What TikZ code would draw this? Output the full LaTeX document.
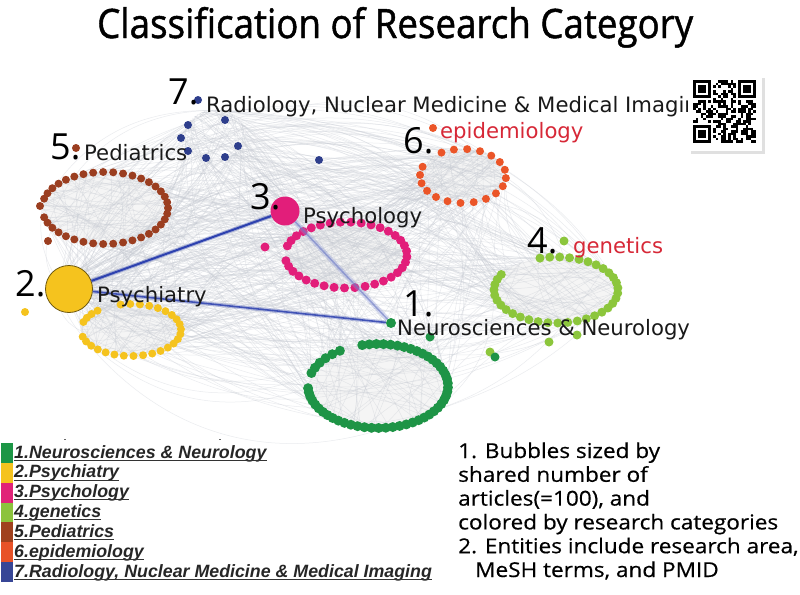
\documentclass[tikz,border=0pt]{standalone}
\usepackage{fontspec}
\newfontfamily\titlef{Open Sans}
\newfontfamily\titleh{Open Sans}[FakeBold=1.2]
\newfontfamily\notef{Open Sans}[FakeBold=0.5]
\newfontfamily\labf{DejaVu Sans}
\newfontfamily\legf{Liberation Sans}
\usetikzlibrary{calc}
\definecolor{cNeu}{RGB}{30,148,70}
\definecolor{cPsi}{RGB}{245,195,30}
\definecolor{cPsy}{RGB}{226,30,122}
\definecolor{cGen}{RGB}{140,198,60}
\definecolor{cPed}{RGB}{155,62,32}
\definecolor{cEpi}{RGB}{235,85,40}
\definecolor{cRad}{RGB}{46,62,140}
\definecolor{cEdge}{RGB}{200,204,212}
\definecolor{cBlue}{RGB}{45,65,175}
\definecolor{cRed}{RGB}{215,40,55}
\definecolor{lNeu}{RGB}{28,150,70}
\definecolor{lPsi}{RGB}{245,195,30}
\definecolor{lPsy}{RGB}{225,35,120}
\definecolor{lGen}{RGB}{140,195,60}
\definecolor{lPed}{RGB}{160,65,30}
\definecolor{lEpi}{RGB}{232,82,40}
\definecolor{lRad}{RGB}{55,70,150}
\newcommand\ringdots[8]{%
  \foreach \k in {0,...,#7}{%
    \pgfmathsetmacro\ang{#5+(#6-#5)*\k/#7}%
    \pgfmathsetmacro\ppx{#1+#3*cos(\ang)}%
    \pgfmathsetmacro\ppy{#2+#4*sin(\ang)}%
    \fill (\ppx,\ppy) circle (#8pt);
  }}
\def\CX{{105,131,346,556,463,378,215,69}}
\def\CY{{208,330,255,290,176,386,135,289}}
\def\RX{{63,50,61,62,43,70,30,12}}
\def\RY{{36,26,33,33,27,42,25,12}}
\def\LEFTS{{0,6,7,1,0,6}}
\def\RIGHTS{{4,3,2,4,3,5}}
\begin{document}
\begin{tikzpicture}[x=1pt,y=-1pt,
  bgedge/.style={draw=cEdge, line width=0.5pt, opacity=0.38},
  lab/.style={anchor=base west, inner sep=0pt, font=\labf\fontsize{21.2}{24}\selectfont, text=black!90},
  num/.style={anchor=base west, inner sep=0pt, font=\titlef\fontsize{36}{40}\selectfont},
  legtext/.style={anchor=base west, inner sep=0pt, font=\legf\bfseries\itshape\fontsize{17.8}{19}\selectfont, text=black!85},
  note/.style={anchor=base west, inner sep=0pt, font=\notef\fontsize{20.5}{23}\selectfont},
  bubble/.style={circle, inner sep=0pt}]
\fill[white] (0,0) rectangle (800,594);
\useasboundingbox (0,0) rectangle (800,594);
% ellipse interiors
\foreach \i in {0,...,5}{
  \pgfmathsetmacro\ex{\CX[\i]}\pgfmathsetmacro\ey{\CY[\i]}
  \pgfmathsetmacro\erx{\RX[\i]}\pgfmathsetmacro\ery{\RY[\i]}
  \fill[black!4] (\ex,\ey) ellipse [x radius=\erx pt, y radius=\ery pt];
}
% background web
\pgfmathsetseed{7}
\foreach \e in {1,...,650}{
  \pgfmathsetmacro\ia{int(random(0,7))}
  \pgfmathsetmacro\ib{int(random(0,7))}
  \pgfmathsetmacro\ta{360*rnd}
  \pgfmathsetmacro\tb{360*rnd}
  \pgfmathsetmacro\xa{\CX[\ia]+\RX[\ia]*cos(\ta)}
  \pgfmathsetmacro\ya{\CY[\ia]+\RY[\ia]*sin(\ta)}
  \pgfmathsetmacro\xb{\CX[\ib]+\RX[\ib]*cos(\tb)}
  \pgfmathsetmacro\yb{\CY[\ib]+\RY[\ib]*sin(\tb)}
  \pgfmathsetmacro\bd{70*rnd-35}
  \draw[bgedge] (\xa,\ya) to[bend left=\bd] (\xb,\yb);
}
% wide upper arcs
\foreach \e in {1,...,90}{
  \pgfmathsetmacro\ia{\LEFTS[int(random(0,5))]}
  \pgfmathsetmacro\ib{\RIGHTS[int(random(0,5))]}
  \pgfmathsetmacro\ta{360*rnd}
  \pgfmathsetmacro\tb{360*rnd}
  \pgfmathsetmacro\xa{\CX[\ia]+\RX[\ia]*cos(\ta)}
  \pgfmathsetmacro\ya{\CY[\ia]+\RY[\ia]*sin(\ta)}
  \pgfmathsetmacro\xb{\CX[\ib]+\RX[\ib]*cos(\tb)}
  \pgfmathsetmacro\yb{\CY[\ib]+\RY[\ib]*sin(\tb)}
  \pgfmathsetmacro\bd{18+25*rnd}
  \draw[bgedge] (\xa,\ya) to[bend left=\bd] (\xb,\yb);
}
% clusters
\begin{scope}[fill=cPed]
  \ringdots{105}{208}{63}{36}{195}{525}{36}{4}
  \fill (40,206) circle (4pt); \fill (48,241) circle (4pt); \fill (76,148) circle (4pt);
\end{scope}
\begin{scope}[fill=cPsi]
  \ringdots{131}{330}{50}{26}{258}{525}{24}{4}
  \ringdots{131}{330}{50}{26}{198}{228}{3}{4}
  \fill (25,312) circle (4pt);
\end{scope}
\begin{scope}[fill=cPsy]
  \ringdots{346}{255}{61}{33}{196}{530}{34}{4.5}
  \fill (265,247) circle (4.5pt);
\end{scope}
\begin{scope}[fill=cGen]
  \ringdots{556}{290}{62}{33}{255}{568}{34}{4.5}
  \fill (564,241) circle (4.5pt); \fill (549,342) circle (4.5pt);
  \fill (577,335) circle (4.5pt); \fill (490,352) circle (4.5pt);
\end{scope}
\begin{scope}[fill=cEpi]
  \ringdots{463}{176}{43}{27}{240}{560}{18}{4}
  \fill (433,128) circle (4pt);
\end{scope}
\begin{scope}[fill=cNeu]
  \ringdots{378}{386}{70}{42}{257}{537}{48}{5}
  \ringdots{378}{386}{70}{42}{198}{237}{5}{5}
  \fill (430,337) circle (4.5pt); \fill (495,357) circle (4.5pt);
\end{scope}
\begin{scope}[fill=cRad]
  \foreach \p in {(198,100),(188,125),(225,120),(181,138),(188,151),(206,158),(225,157),(238,146),(319,160)}
    \fill \p circle (4pt);
\end{scope}
% key nodes
\node[bubble, minimum size=47pt, fill=cPsi, draw=black!55!cPsi, line width=0.8pt] (psychiatry) at (69,289) {};
\node[bubble, minimum size=29pt, fill=cPsy] (psychology) at (285,211) {};
\node[bubble, minimum size=10pt, fill=cNeu] (neurodot) at (391,323) {};
% blue edges
\draw[line width=5pt, cBlue!55, opacity=0.35] (psychology) -- (neurodot);
\draw[line width=1.5pt, cBlue!70, opacity=0.6] (psychology) -- (neurodot);
\draw[line width=4pt, cBlue, opacity=0.3] (psychiatry) -- (neurodot);
\draw[line width=1.6pt, cBlue, opacity=0.85] (psychiatry) -- (neurodot);
\draw[line width=4pt, cBlue, opacity=0.35] (psychiatry) -- (psychology);
\draw[line width=2pt, cBlue] (psychiatry) -- (psychology);
% title
\node[anchor=base west, inner sep=0pt] (title) at (97,38) {\resizebox{596pt}{31pt}{\titleh Classification of Research Category}};
% labels
\node[num] (n7) at (168,104) {7.};
\node[lab] (l7) at (206,112) {Radiology, Nuclear Medicine \& Medical Imaging};
\node[num] (n5) at (50,159) {5.};
\node[lab] (l5) at (84,160) {Pediatrics};
\node[num] (n3) at (250,209) {3.};
\node[lab] (l3) at (303,223) {Psychology};
\node[num] (n2) at (15,296) {2.};
\node[lab] (l2) at (97,302) {Psychiatry};
\node[num] (n1) at (403,316) {1.};
\node[lab] (l1) at (397,335) {Neurosciences \& Neurology};
\node[num] (n4) at (527,253) {4.};
\node[lab, text=cRed] (l4) at (573,253) {genetics};
\node[num] (n6) at (403,153) {6.};
\node[lab, text=cRed] (l6) at (440,138) {epidemiology};
% QR code
\fill[black!12] (691,78) rectangle (765,154);
\fill[white] (688,75) rectangle (762,151);
\begin{scope}[shift={(693,80)}]
  \pgfmathsetseed{11}
  \foreach \i in {0,...,24}{\foreach \j in {0,...,24}{
    \pgfmathsetmacro\rr{int(random(0,1))}
    \pgfmathsetmacro\sk{int((\i<8 && \j<8) || (\i>16 && \j<8) || (\i<8 && \j>16))}
    \ifnum\sk=0 \ifnum\rr=1 \fill (\i*2.5,\j*2.5) rectangle ++(2.5,2.5);\fi\fi
  }}
  \foreach \fx/\fy in {0/0,18/0,0/18}{
    \fill (\fx*2.5,\fy*2.5) rectangle ++(17.5,17.5);
    \fill[white] (\fx*2.5+2.5,\fy*2.5+2.5) rectangle ++(12.5,12.5);
    \fill (\fx*2.5+5,\fy*2.5+5) rectangle ++(7.5,7.5);
  }
\end{scope}
% legend
\draw[black!60, line width=1pt] (64,439) -- (66,439);
\draw[black!60, line width=1pt] (219,439) -- (221,439);
\foreach \c [count=\n from 0] in {lNeu,lPsi,lPsy,lGen,lPed,lEpi,lRad}
  \fill[\c] (1,443+19.85*\n) rectangle (13,443+19.85*\n+19.85);
\node[legtext] (g1) at (14,458) {1.Neurosciences \& Neurology};
\node[legtext] (g2) at (14,477.85) {2.Psychiatry};
\node[legtext] (g3) at (14,497.7) {3.Psychology};
\node[legtext] (g4) at (14,517.55) {4.genetics};
\node[legtext] (g5) at (14,537.4) {5.Pediatrics};
\node[legtext] (g6) at (14,557.25) {6.epidemiology};
\node[legtext] (g7) at (14,577.1) {7.Radiology, Nuclear Medicine \& Medical Imaging};
\foreach \g in {g1,g2,g3,g4,g5,g6,g7}
  \draw[black!80, line width=1.1pt] ($(\g.base west)+(0,2.2)$) -- ($(\g.base east)+(0,2.2)$);
% notes
\node[note] (t1) at (458,458) {\scalebox{1.1}[1]{1. Bubbles sized by}};
\node[note] (t2) at (458,481.8) {\scalebox{1.1}[1]{shared number of}};
\node[note] (t3) at (458,505.6) {\scalebox{1.1}[1]{articles(=100), and}};
\node[note] (t4) at (458,529.4) {\scalebox{1.1}[1]{colored by research categories}};
\node[note] (t5) at (458,553.2) {\scalebox{1.1}[1]{2. Entities include research area,}};
\node[note] (t6) at (475,577) {\scalebox{1.1}[1]{MeSH terms, and PMID}};
\end{tikzpicture}
\end{document}
